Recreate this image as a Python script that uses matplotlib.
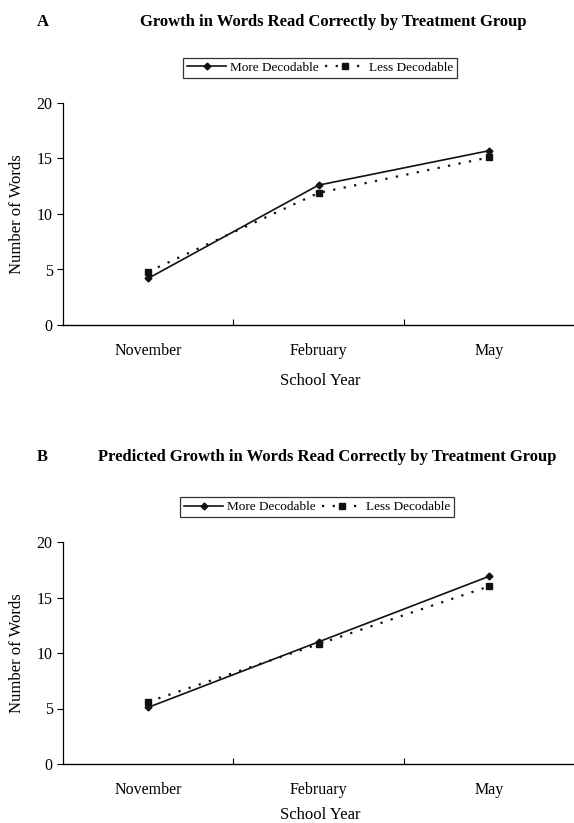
import matplotlib
matplotlib.use("Agg")
import matplotlib.pyplot as plt

months = ["November", "February", "May"]
a_more = [4.2, 12.6, 15.7]
a_less = [4.8, 11.9, 15.1]
b_more = [5.1, 11.0, 16.9]
b_less = [5.6, 10.8, 16.0]
yticks = [0, 5, 10, 15, 20]
title_a = "Growth in Words Read Correctly by Treatment Group"
title_b = "Predicted Growth in Words Read Correctly by Treatment Group"

plt.rcParams['font.family'] = ['Liberation Serif', 'DejaVu Serif']

W, H = 574, 823
fig = plt.figure(figsize=(W/100, H/100), dpi=100)

def fx(px): return px / W
def fy(py): return 1 - py / H

def panel(top_px, bottom_px, more, less, letter, title, title_x, title_y, leg_x, leg_y, xl_y):
    ax = fig.add_axes([fx(63), fy(bottom_px), fx(574) - fx(63), fy(top_px) - fy(bottom_px)])
    x = [0, 1, 2]
    l1, = ax.plot(x, more, '-', color='#111111', lw=1.2, marker='D', ms=3.5,
                  label='More Decodable')
    l2, = ax.plot(x, less, color='#111111', lw=1.6, ls=(0, (1, 3.8)), marker='s', ms=4.5,
                  label='Less Decodable')
    ax.set_xlim(-0.5, 2.5)
    ax.set_ylim(0, 20)
    ax.set_yticks(yticks)
    ax.set_xticks([0.5, 1.5])
    ax.set_xticklabels([])
    for i, m in enumerate(months):
        ax.text(i, -2.3, m, ha='center', va='center', fontsize=11.5)
    ax.tick_params(axis='x', direction='in', length=4, width=0.8)
    ax.tick_params(axis='y', direction='out', length=4, width=0.8, labelsize=11.5)
    for s in ['top', 'right']:
        ax.spines[s].set_visible(False)
    ax.spines['left'].set_linewidth(0.9)
    ax.spines['bottom'].set_linewidth(1.0)
    ax.set_ylabel("Number of Words", fontsize=12, labelpad=8)
    fig.text(fx(320), fy(xl_y), "School Year", ha='center', va='center', fontsize=12)
    fig.text(fx(37), fy(title_y), letter, ha='left', va='center', fontsize=12, fontweight='bold')
    fig.text(fx(title_x), fy(title_y), title, ha='center', va='center', fontsize=12, fontweight='bold')
    leg = fig.legend(handles=[l1, l2], loc='center', bbox_to_anchor=(fx(leg_x), fy(leg_y)),
                     ncol=2, frameon=True, fancybox=False, fontsize=9.5,
                     handlelength=3.0, handletextpad=0.3, columnspacing=0.5,
                     borderpad=0.3, edgecolor='black')
    leg.get_frame().set_linewidth(0.9)
    return ax

panel(103, 325, a_more, a_less, "A", title_a, 333, 22, 320, 68, 381)
panel(542, 764, b_more, b_less, "B", title_b, 327, 457, 317, 507, 815)

fig.savefig("out.png", dpi=100)
